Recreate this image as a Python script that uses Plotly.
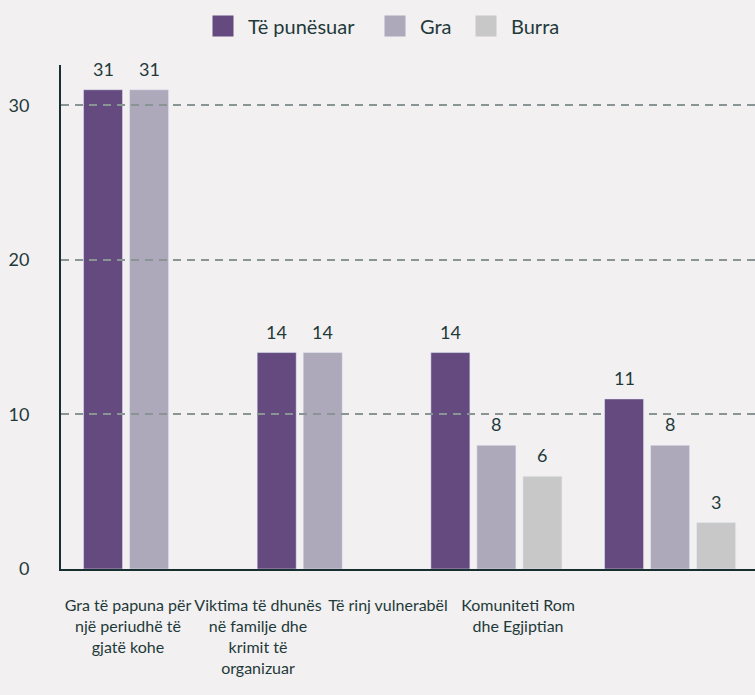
import plotly.graph_objects as go

categories = ["Gra të papuna për një periudhë të gjatë kohe",
              "Viktima të dhunës në familje dhe krimit të organizuar",
              "Të rinj vulnerabël",
              "Komuniteti Rom dhe Egjiptian"]
tick_labels = ["Gra të papuna për<br>një periudhë të<br>gjatë kohe",
               "Viktima të dhunës<br>në familje dhe<br>krimit të<br>organizuar",
               "Të rinj vulnerabël",
               "Komuniteti Rom<br>dhe Egjiptian"]
series_names = ["Të punësuar", "Gra", "Burra"]
te_punesuar = [31, 14, 14, 11]
gra = [31, 14, 8, 8]
burra = [None, None, 6, 3]
y_ticks = [0, 10, 20, 30]

colors = ["#644a7f", "#aea8bb", "#c8c8c8"]
legend_widths = [117, 36, 60]
BG = "#f2f0f1"
TXT = "#1f3a3a"
FONT = "Lato"

fig = go.Figure()
series = [te_punesuar, gra, burra]
for name, vals, col in zip(series_names, series, colors):
    fig.add_trace(go.Bar(x=categories, y=vals, name=name, marker_color=col,
                         showlegend=False, hoverinfo="skip"))
# legend entries (larger square swatches)
for name, col, lw in zip(series_names, colors, legend_widths):
    fig.add_trace(go.Scatter(x=[None], y=[None], mode="markers", name=name,
                             legendwidth=lw,
                             marker=dict(symbol="square", size=16, color=col,
                                         line=dict(color=col, width=5))))
# invisible trace carrying the category tick labels
fig.add_trace(go.Scatter(x=tick_labels, y=[0] * len(tick_labels), xaxis="x2",
                         mode="markers", marker=dict(opacity=0), showlegend=False,
                         hoverinfo="skip"))

slot_px = 46
for k, vals in enumerate(series):
    for cat, v in zip(categories, vals):
        if v is None:
            continue
        fig.add_annotation(x=cat, y=v, text=str(v), showarrow=False,
                           xref="x", yref="y", yanchor="bottom",
                           xshift=(k - 1) * slot_px, yshift=8,
                           font=dict(family=FONT, size=18, color=TXT))

fig.update_layout(
    width=755, height=695,
    margin=dict(l=61, r=0, t=65, b=125.5),
    paper_bgcolor=BG, plot_bgcolor="rgba(0,0,0,0)",
    barmode="group", bargap=0.205, bargroupgap=0.152,
    font=dict(family=FONT, size=16, color=TXT),
    legend=dict(orientation="h", xref="container", yref="container",
                x=198 / 755, y=1 - 26 / 695, xanchor="left", yanchor="middle",
                itemwidth=40,
                font=dict(family=FONT, size=20, color=TXT), bgcolor="rgba(0,0,0,0)"),
    xaxis=dict(type="category", range=[-0.507, 3.489], showticklabels=False,
               showgrid=False, zeroline=False, showline=True, linecolor="#17302f",
               linewidth=2, ticks="", automargin=False),
    xaxis2=dict(type="category", domain=[0, 0.7522], range=[-0.515, 3.5],
                anchor="y", showgrid=False, zeroline=False, showline=False,
                ticks="outside", ticklen=22, tickcolor="rgba(0,0,0,0)",
                tickangle=0, automargin=False,
                tickfont=dict(family=FONT, size=16, color=TXT)),
    yaxis=dict(range=[0, 32.6], tickvals=y_ticks, showgrid=True,
               gridcolor="#899494", gridwidth=1.5, griddash="8px,6px",
               zeroline=False, showline=True, linecolor="#17302f", linewidth=2,
               ticks="outside", ticklen=26, tickcolor="rgba(0,0,0,0)",
               automargin=False,
               tickfont=dict(family=FONT, size=18, color=TXT)),
)

fig.write_html("out.html", config={"displayModeBar": False},
               post_script="document.body.style.margin='0';"
                           "document.body.style.overflow='hidden';")
